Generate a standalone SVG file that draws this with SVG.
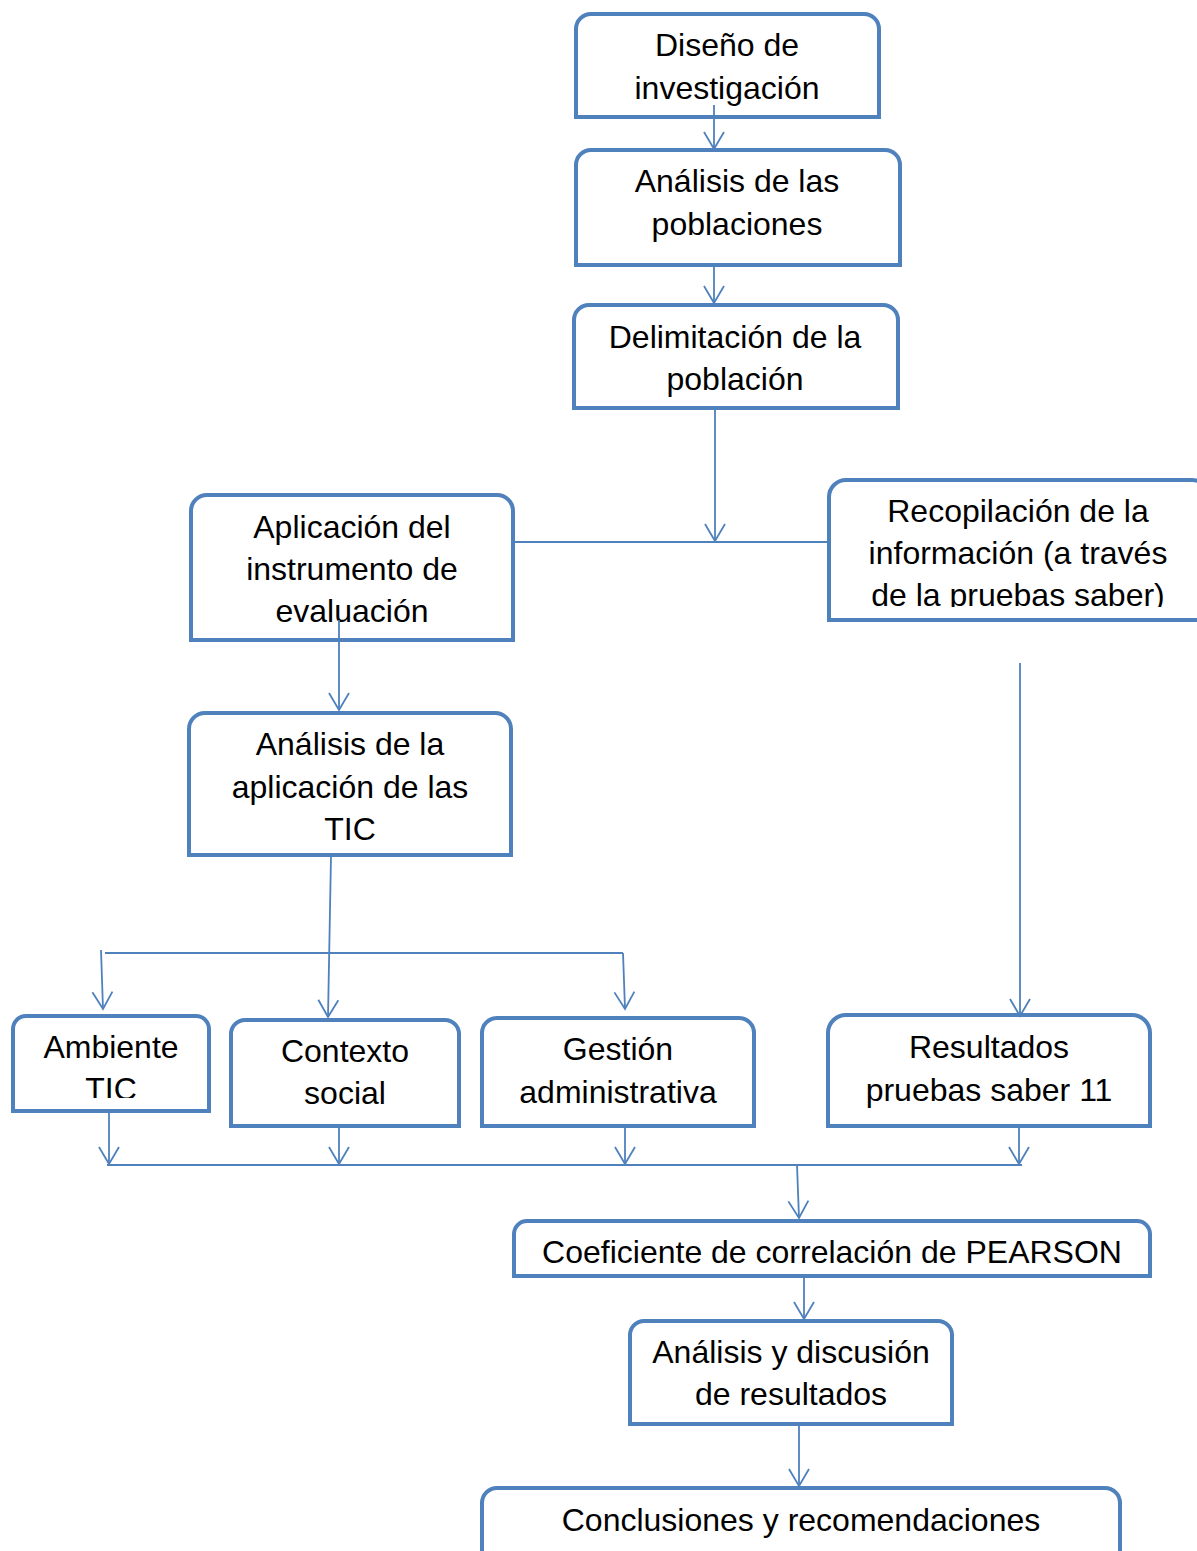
<svg xmlns="http://www.w3.org/2000/svg" width="1197" height="1551" viewBox="0 0 1197 1551">
<style>
.box{fill:#fff;stroke:#4F81BD;stroke-width:4}
.t{font-family:"Liberation Sans",Arial,sans-serif;font-size:32px;fill:#000;text-anchor:middle}
.c{fill:none;stroke:#4F81BD;stroke-width:1.8}
.ar{fill:none;stroke:#4F81BD;stroke-width:1.8}
</style>
<defs>
<marker id="arr" markerUnits="userSpaceOnUse" viewBox="-20 -12 22 24" refX="0" refY="0" markerWidth="22" markerHeight="24" orient="auto" overflow="visible">
<path class="ar" d="M-17,-10 L0,0 L-17,10"/>
</marker>
<clipPath id="clip5"><rect x="829" y="480" width="380" height="127"/></clipPath>
<clipPath id="clip7"><rect x="12" y="1015" width="200" height="83"/></clipPath>
</defs>
<rect width="1197" height="1551" fill="#fff"/>

<g id="n1">
<path class="box" d="M576,117 V29 A15,15 0 0 1 591,14 H864 A15,15 0 0 1 879,29 V117 Z"/>
<text class="t" x="727" y="56">Diseño de</text>
<text class="t" x="727" y="99">investigación</text>
</g>
<g id="n2">
<path class="box" d="M576,265 V165 A15,15 0 0 1 591,150 H885 A15,15 0 0 1 900,165 V265 Z"/>
<text class="t" x="737" y="192">Análisis de las</text>
<text class="t" x="737" y="235">poblaciones</text>
</g>
<g id="n3">
<path class="box" d="M574,408 V320 A15,15 0 0 1 589,305 H883 A15,15 0 0 1 898,320 V408 Z"/>
<text class="t" x="735" y="348">Delimitación de la</text>
<text class="t" x="735" y="390">población</text>
</g>
<g id="n4">
<path class="box" d="M191,640 V511 A16,16 0 0 1 207,495 H497 A16,16 0 0 1 513,511 V640 Z"/>
<text class="t" x="352" y="538">Aplicación del</text>
<text class="t" x="352" y="580">instrumento de</text>
<text class="t" x="352" y="622">evaluación</text>
</g>
<g id="n5">
<path class="box" d="M829,620 V497 A17,17 0 0 1 846,480 H1192 A17,17 0 0 1 1209,497 V620 Z"/>
<g clip-path="url(#clip5)">
<text class="t" x="1018" y="522">Recopilación de la</text>
<text class="t" x="1018" y="564">información (a través</text>
<text class="t" x="1018" y="606">de la pruebas saber)</text>
</g>
</g>
<g id="n6">
<path class="box" d="M189,855 V729 A16,16 0 0 1 205,713 H495 A16,16 0 0 1 511,729 V855 Z"/>
<text class="t" x="350" y="755">Análisis de la</text>
<text class="t" x="350" y="798">aplicación de las</text>
<text class="t" x="350" y="840">TIC</text>
</g>
<g id="n7">
<path class="box" d="M13,1111 V1029 A13,13 0 0 1 26,1016 H196 A13,13 0 0 1 209,1029 V1111 Z"/>
<text class="t" x="111" y="1058">Ambiente</text>
<g clip-path="url(#clip7)">
<text class="t" x="111" y="1100">TIC</text>
</g>
</g>
<g id="n8">
<path class="box" d="M231,1126 V1034 A14,14 0 0 1 245,1020 H445 A14,14 0 0 1 459,1034 V1126 Z"/>
<text class="t" x="345" y="1062">Contexto</text>
<text class="t" x="345" y="1104">social</text>
</g>
<g id="n9">
<path class="box" d="M482,1126 V1033 A15,15 0 0 1 497,1018 H739 A15,15 0 0 1 754,1033 V1126 Z"/>
<text class="t" x="618" y="1060">Gestión</text>
<text class="t" x="618" y="1103">administrativa</text>
</g>
<g id="n10">
<path class="box" d="M828,1126 V1033 A18,18 0 0 1 846,1015 H1132 A18,18 0 0 1 1150,1033 V1126 Z"/>
<text class="t" x="989" y="1058">Resultados</text>
<text class="t" x="989" y="1101">pruebas saber 11</text>
</g>
<g id="n11">
<path class="box" d="M514,1276 V1234 A13,13 0 0 1 527,1221 H1137 A13,13 0 0 1 1150,1234 V1276 Z"/>
<text class="t" x="832" y="1263">Coeficiente de correlación de PEARSON</text>
</g>
<g id="n12">
<path class="box" d="M630,1424 V1335 A14,14 0 0 1 644,1321 H938 A14,14 0 0 1 952,1335 V1424 Z"/>
<text class="t" x="791" y="1363">Análisis y discusión</text>
<text class="t" x="791" y="1405">de resultados</text>
</g>
<g id="n13">
<path class="box" d="M482,1560 V1503 A15,15 0 0 1 497,1488 H1105 A15,15 0 0 1 1120,1503 V1560"/>
<text class="t" x="801" y="1531">Conclusiones y recomendaciones</text>
</g>

<g id="connectors">
<line class="c" x1="714" y1="105" x2="714" y2="149" marker-end="url(#arr)"/>
<line class="c" x1="714" y1="266" x2="714" y2="303" marker-end="url(#arr)"/>
<line class="c" x1="715" y1="409" x2="715" y2="541" marker-end="url(#arr)"/>
<line class="c" x1="514" y1="542" x2="829" y2="542"/>
<line class="c" x1="339" y1="620" x2="339" y2="710" marker-end="url(#arr)"/>
<line class="c" x1="1020" y1="663" x2="1020" y2="1016" marker-end="url(#arr)"/>
<line class="c" x1="331" y1="856" x2="328" y2="1017" marker-end="url(#arr)"/>
<line class="c" x1="105" y1="953" x2="623" y2="953"/>
<line class="c" x1="101" y1="950" x2="103" y2="1009" marker-end="url(#arr)"/>
<line class="c" x1="623" y1="953" x2="625" y2="1009" marker-end="url(#arr)"/>
<line class="c" x1="109" y1="1112" x2="109" y2="1164" marker-end="url(#arr)"/>
<line class="c" x1="339" y1="1128" x2="339" y2="1164" marker-end="url(#arr)"/>
<line class="c" x1="625" y1="1128" x2="625" y2="1164" marker-end="url(#arr)"/>
<line class="c" x1="1019" y1="1128" x2="1019" y2="1164" marker-end="url(#arr)"/>
<line class="c" x1="107" y1="1165" x2="1022" y2="1165"/>
<line class="c" x1="797" y1="1165" x2="799" y2="1218" marker-end="url(#arr)"/>
<line class="c" x1="804" y1="1278" x2="804" y2="1319" marker-end="url(#arr)"/>
<line class="c" x1="799" y1="1426" x2="799" y2="1486" marker-end="url(#arr)"/>
</g>
</svg>
